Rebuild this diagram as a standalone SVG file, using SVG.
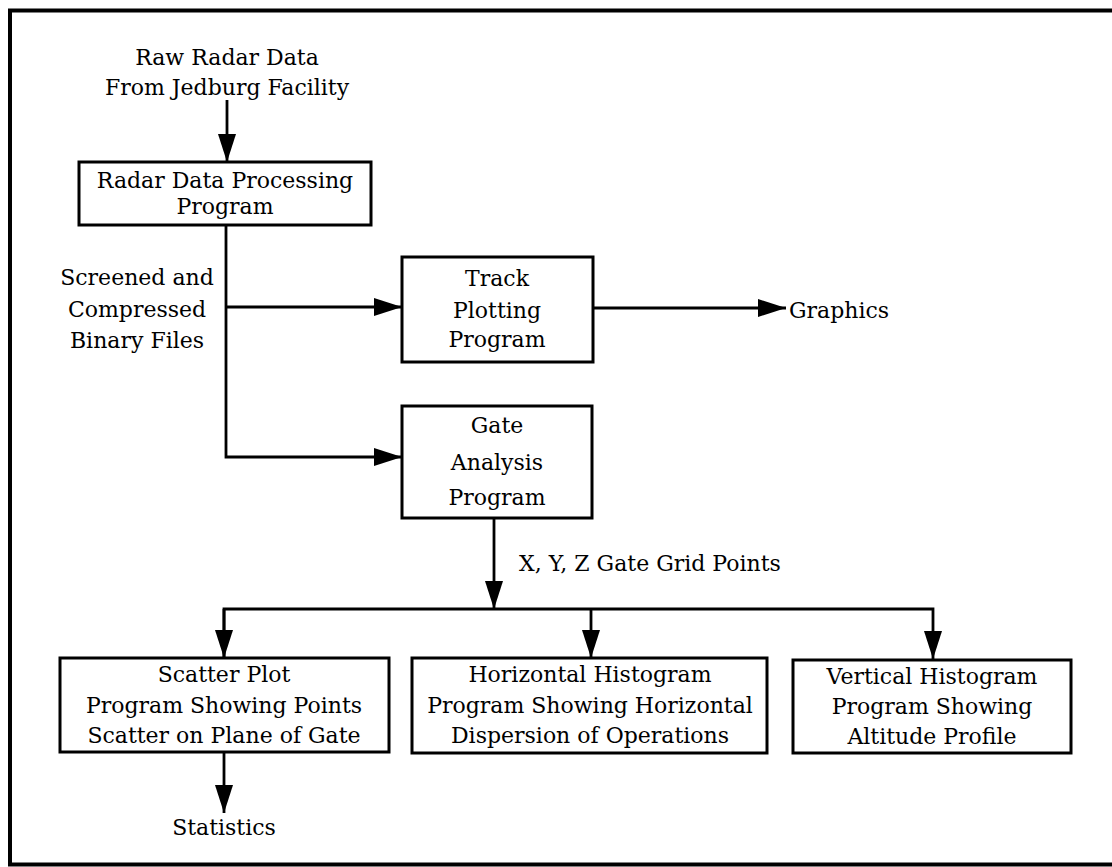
<svg xmlns="http://www.w3.org/2000/svg" width="1112" height="867" viewBox="0 0 1112 867">
<style>
text{font-family:"DejaVu Serif","Liberation Serif",serif;font-size:22px;fill:#000;text-anchor:middle}
.l{text-anchor:start}
.box{fill:#fff;stroke:#000;stroke-width:3}
.ln{fill:none;stroke:#000;stroke-width:2.8}
</style>
<defs>
<marker id="ah" markerUnits="userSpaceOnUse" markerWidth="30" markerHeight="20" refX="28" refY="9" orient="auto">
<path d="M0,0 L28,9 L0,18 Z" fill="#000"/>
</marker>
</defs>
<rect x="10" y="10.5" width="1110" height="854" fill="none" stroke="#000" stroke-width="4"/>
<g id="connectors">
<path class="ln" d="M227,100 V162" marker-end="url(#ah)"/>
<path class="ln" d="M226,225 V457 H402" marker-end="url(#ah)"/>
<path class="ln" d="M226,307 H402" marker-end="url(#ah)"/>
<path class="ln" d="M593,308 H786" marker-end="url(#ah)"/>
<path class="ln" d="M494,518 V609" marker-end="url(#ah)"/>
<path class="ln" d="M224,658 V609 H933 V659" marker-end="url(#ah)"/>
<path class="ln" d="M224,609 V658" marker-end="url(#ah)"/>
<path class="ln" d="M591,609 V658" marker-end="url(#ah)"/>
<path class="ln" d="M224,752 V813" marker-end="url(#ah)"/>
</g>
<g id="source">
<text x="227" y="65">Raw Radar Data</text>
<text x="227" y="95">From Jedburg Facility</text>
</g>
<g id="radar">
<rect class="box" x="79" y="162" width="292" height="63"/>
<text x="225" y="188">Radar Data Processing</text>
<text x="225" y="214">Program</text>
</g>
<g id="files-label">
<text x="137" y="285">Screened and</text>
<text x="137" y="317">Compressed</text>
<text x="137" y="348">Binary Files</text>
</g>
<g id="track">
<rect class="box" x="402" y="257" width="191" height="105"/>
<text x="497" y="286">Track</text>
<text x="497" y="318">Plotting</text>
<text x="497" y="347">Program</text>
</g>
<g id="graphics">
<text class="l" x="789" y="318">Graphics</text>
</g>
<g id="gate">
<rect class="box" x="402" y="406" width="190" height="112"/>
<text x="497" y="433">Gate</text>
<text x="497" y="470">Analysis</text>
<text x="497" y="505">Program</text>
</g>
<g id="grid-label">
<text class="l" x="519" y="571">X, Y, Z Gate Grid Points</text>
</g>
<g id="scatter">
<rect class="box" x="60" y="658" width="329" height="94"/>
<text x="224" y="682">Scatter Plot</text>
<text x="224" y="713">Program Showing Points</text>
<text x="224" y="743">Scatter on Plane of Gate</text>
</g>
<g id="horizontal">
<rect class="box" x="412" y="658" width="355" height="95"/>
<text x="590" y="682">Horizontal Histogram</text>
<text x="590" y="713">Program Showing Horizontal</text>
<text x="590" y="743">Dispersion of Operations</text>
</g>
<g id="vertical">
<rect class="box" x="793" y="660" width="278" height="93"/>
<text x="932" y="684">Vertical Histogram</text>
<text x="932" y="714">Program Showing</text>
<text x="932" y="744">Altitude Profile</text>
</g>
<g id="statistics">
<text x="224" y="835">Statistics</text>
</g>
</svg>
